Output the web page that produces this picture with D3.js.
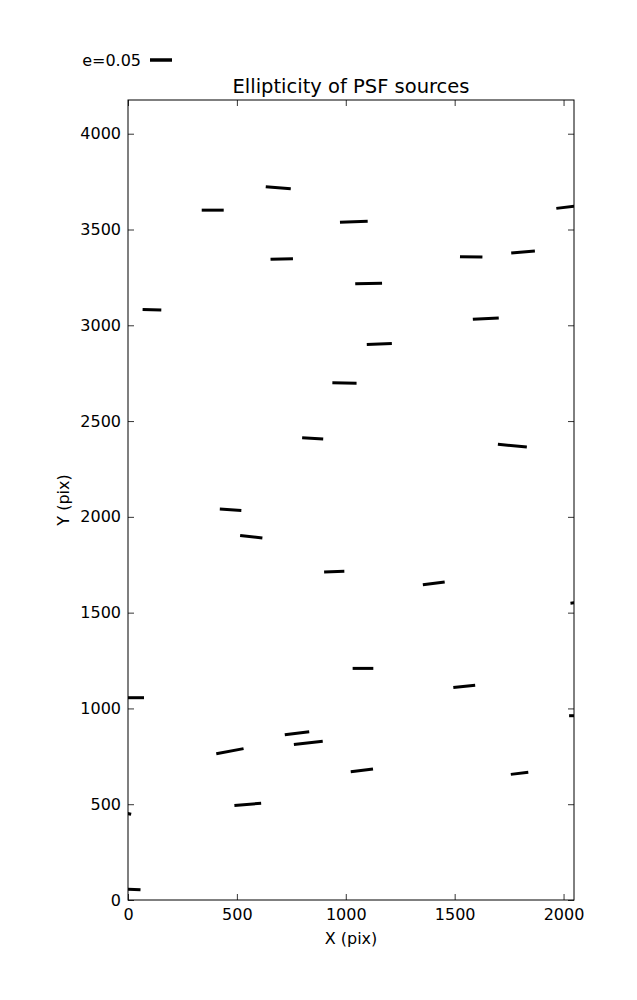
<!DOCTYPE html>
<html>
<head>
<meta charset="utf-8">
<script src="https://cdn.jsdelivr.net/npm/d3@7"></script>
<style>
  body { margin: 0; background: #fff; }
  text { font-family: "DejaVu Sans", sans-serif; fill: #000; }
</style>
</head>
<body>
<svg id="chart" width="637" height="1000"></svg>
<script>
// Source positions (pix), ellipticity, and orientation angle (deg)
const srcX   = [690, 389, 706, 110, 1037, 2022, 1576, 1814, 1105, 1643, 1154, 994, 848, 1765, 471, 566, 947, 1404, 2077, 1079, 1544, 25, 468, 776, 828, 550, -30, 1074, 1798, 2071, 12];
const srcY   = [3718, 3601, 3346, 3081, 3541, 3618, 3357, 3382, 3218, 3035, 2902, 2699, 2410, 2372, 2037, 1896, 1714, 1653, 1555, 1209, 1115, 1056, 777, 871, 820, 499, 458, 677, 661, 962, 56];
const srcE   = [0.057, 0.050, 0.051, 0.0425, 0.063, 0.055, 0.051, 0.054, 0.061, 0.059, 0.057, 0.055, 0.048, 0.066, 0.049, 0.051, 0.046, 0.050, 0.045, 0.047, 0.050, 0.048, 0.063, 0.056, 0.066, 0.061, 0.045, 0.051, 0.040, 0.045, 0.045];
const srcAng = [-4.6, 0, 1, -2, 2, 7, -1, 4.8, 1.3, 3, 2.3, -1, -3.5, -5.1, -3.5, -6.8, 1.7, 7, 6, 0, 6, 0, 10.4, 7, 6.5, 5, -12, 7, 6.6, 0, -3];
const xTicks = [0, 500, 1000, 1500, 2000];
const yTicks = [0, 500, 1000, 1500, 2000, 2500, 3000, 3500, 4000];
const keyE = 0.05;

const svg = d3.select("#chart");
const margin = {left: 128, right: 63, top: 100, bottom: 100};
const W = 637 - margin.left - margin.right;
const H = 1000 - margin.top - margin.bottom;

const x = d3.scaleLinear().domain([0, 2048]).range([0, W]);
const y = d3.scaleLinear().domain([0, 4176]).range([H, 0]);
const len = d3.scaleLinear().domain([0, keyE]).range([0, 22]);

const g = svg.append("g").attr("transform", `translate(${margin.left},${margin.top})`);

g.append("defs").append("clipPath").attr("id", "clip")
  .append("rect").attr("width", W).attr("height", H);

// whiskers
const data = srcX.map((d, i) => ({x: d, y: srcY[i], e: srcE[i], a: srcAng[i]}));
g.append("g").attr("clip-path", "url(#clip)")
  .selectAll("line").data(data).enter().append("line")
  .attr("x1", d => x(d.x) - len(d.e) / 2 * Math.cos(d.a * Math.PI / 180))
  .attr("x2", d => x(d.x) + len(d.e) / 2 * Math.cos(d.a * Math.PI / 180))
  .attr("y1", d => y(d.y) + len(d.e) / 2 * Math.sin(d.a * Math.PI / 180))
  .attr("y2", d => y(d.y) - len(d.e) / 2 * Math.sin(d.a * Math.PI / 180))
  .attr("stroke", "#000").attr("stroke-width", 3);

// axes (ticks inward on all sides)
const tickLen = 6;
function styleAxis(sel) {
  sel.select(".domain").remove();
  sel.selectAll(".tick line").attr("stroke", "#000").attr("stroke-width", 0.8);
  sel.selectAll("text").style("font-size", "16px").style("font-family", "DejaVu Sans, sans-serif");
}
const xb = g.append("g").attr("transform", `translate(0,${H})`)
  .call(d3.axisBottom(x).tickValues(xTicks).tickSize(-tickLen).tickPadding(9).tickFormat(d3.format("d")));
styleAxis(xb);
const xt = g.append("g")
  .call(d3.axisTop(x).tickValues(xTicks).tickSize(-tickLen).tickFormat(""));
styleAxis(xt);
const yl = g.append("g")
  .call(d3.axisLeft(y).tickValues(yTicks).tickSize(-tickLen).tickPadding(7).tickFormat(d3.format("d")));
styleAxis(yl);
const yr = g.append("g").attr("transform", `translate(${W},0)`)
  .call(d3.axisRight(y).tickValues(yTicks).tickSize(-tickLen).tickFormat(""));
styleAxis(yr);

// frame
g.append("rect").attr("width", W).attr("height", H)
  .attr("fill", "none").attr("stroke", "#000").attr("stroke-width", 1);

// title & labels
svg.append("text").attr("x", margin.left + W / 2).attr("y", 93)
  .attr("text-anchor", "middle").style("font-size", "19.5px")
  .text("Ellipticity of PSF sources");
svg.append("text").attr("x", margin.left + W / 2).attr("y", 944)
  .attr("text-anchor", "middle").style("font-size", "16px")
  .text("X (pix)");
svg.append("text").attr("transform", `translate(69,${margin.top + H / 2}) rotate(-90)`)
  .attr("text-anchor", "middle").style("font-size", "16px")
  .text("Y (pix)");

// key
svg.append("text").attr("x", 141).attr("y", 65.5)
  .attr("text-anchor", "end").style("font-size", "16px")
  .text("e=" + keyE.toFixed(2));
svg.append("line").attr("x1", 150).attr("x2", 150 + len(keyE))
  .attr("y1", 60).attr("y2", 60)
  .attr("stroke", "#000").attr("stroke-width", 3.5);
</script>
</body>
</html>
